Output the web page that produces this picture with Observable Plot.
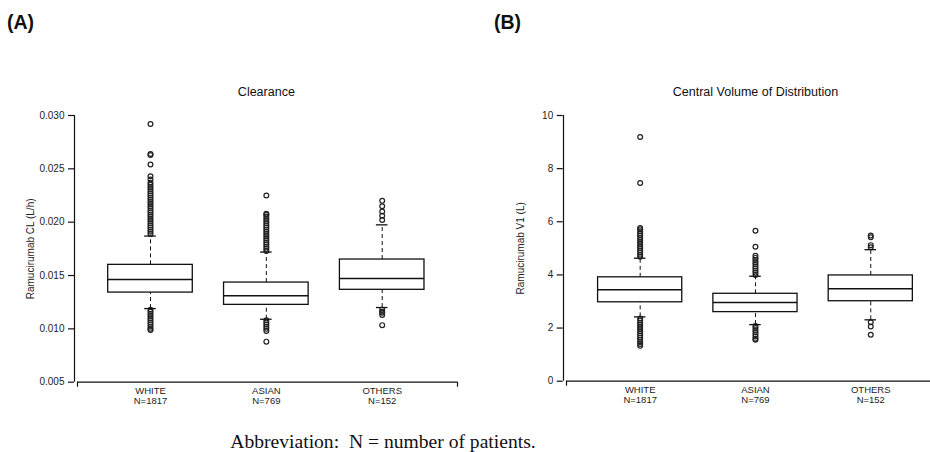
<!DOCTYPE html>
<html>
<head>
<meta charset="utf-8">
<script src="https://cdn.jsdelivr.net/npm/d3@7"></script>
<script src="https://cdn.jsdelivr.net/npm/@observablehq/plot@0.6"></script>
<style>
  body { margin: 0; background: #fff; }
  #fig { position: relative; width: 930px; height: 452px; background: #fff; overflow: hidden; }
  .panel { position: absolute; top: 0; }
  .tag { position: absolute; top: 13px; font: bold 19.5px "Liberation Sans", Arial, sans-serif; line-height: 19px; color: #111; }
  #caption { position: absolute; top: 432px; left: 0; width: 766px; text-align: center; font: 19.6px "Liberation Serif", "Times New Roman", serif; line-height: 19px; white-space: pre; color: #111; }
</style>
</head>
<body>
<div id="fig">
  <div class="tag" style="left:7px">(A)</div>
  <div class="tag" style="left:494px">(B)</div>
  <div id="panelA" class="panel" style="left:0px"></div>
  <div id="panelB" class="panel" style="left:465px"></div>
  <div id="caption">Abbreviation:  N = number of patients.</div>
</div>
<script>
// ---- Data ----
const categories = ["WHITE", "ASIAN", "OTHERS"];
const patientCounts = ["N=1817", "N=769", "N=152"];

// Panel A: Clearance (L/h)
const clTitle = "Clearance";
const clLabel = "Ramucirumab CL (L/h)";
const clTicks = [0.005, 0.010, 0.015, 0.020, 0.025, 0.030];
const clQ1  = [0.0134, 0.01225, 0.01366];
const clMed = [0.01463, 0.0131, 0.01472];
const clQ3  = [0.0160, 0.01434, 0.0165];
const clLow = [0.0119, 0.0109, 0.0120];
const clHigh = [0.0187, 0.0172, 0.01975];
const clOutWhite = [0.0189,0.0191,0.0193,0.0195,0.0197,0.0199,0.0201,0.0203,0.0205,0.0207,0.0209,0.0211,0.0213,0.0215,0.0217,0.0219,0.0221,0.0223,0.0225,0.0227,0.0229,0.0231,0.0233,0.0235,0.0237,0.0240,0.0243,0.0254,0.0263,0.0264,0.0292,
  0.0118,0.0116,0.0114,0.0112,0.0110,0.0108,0.0106,0.0104,0.0102,0.0100,0.0099];
const clOutAsian = [0.0173,0.0175,0.0177,0.0179,0.0181,0.0183,0.0185,0.0187,0.0189,0.0191,0.0193,0.0195,0.0197,0.0199,0.0201,0.0203,0.0205,0.0207,0.0208,0.0225,
  0.0108,0.0106,0.0104,0.0102,0.0100,0.0098,0.0088];
const clOutOthers = [0.0202,0.0206,0.0210,0.0215,0.0220, 0.0118,0.0116,0.0115,0.0113,0.01035];

// Panel B: Central volume of distribution (L)
const v1Title = "Central Volume of Distribution";
const v1Label = "Ramucirumab V1 (L)";
const v1Ticks = [0, 2, 4, 6, 8, 10];
const v1Q1  = [2.97, 2.60, 3.01];
const v1Med = [3.44, 2.96, 3.48];
const v1Q3  = [3.91, 3.29, 3.98];
const v1Low = [2.42, 2.13, 2.31];
const v1High = [4.63, 3.95, 4.95];
const v1OutWhite = [4.68,4.76,4.84,4.92,5.00,5.08,5.16,5.24,5.32,5.40,5.48,5.56,5.64,5.72,5.77,7.46,9.19,
  2.36,2.28,2.20,2.12,2.04,1.96,1.88,1.80,1.72,1.64,1.56,1.48,1.40,1.33];
const v1OutAsian = [4.00,4.08,4.16,4.24,4.32,4.40,4.48,4.56,4.64,4.72,5.06,5.66,
  2.08,2.00,1.92,1.84,1.76,1.68,1.60,1.56];
const v1OutOthers = [5.04,5.12,5.42,5.48, 2.22,2.06,1.75];

// ---- Drawing ----
function panel({title, label, ticks, fmt, q1, med, q3, lo, hi, outs, xDomain, xRange, yDomain, yRange, marginLeft, labelDx}) {
  const boxes = categories.map((c, k) => ({i: k + 1, q1: q1[k], med: med[k], q3: q3[k], lo: lo[k], hi: hi[k]}));
  const outliers = outs.flatMap((arr, k) => arr.map(v => ({i: k + 1, v})));
  const hw = 0.365, cw = 0.05;
  const H = 410;
  return Plot.plot({
    width: 465,
    height: H,
    marginLeft,
    marginRight: 0,
    marginTop: yRange[1],
    marginBottom: H - yRange[0],
    style: {fontFamily: "'Liberation Sans', Arial, sans-serif", fontSize: "10px", color: "#222", background: "transparent"},
    x: {domain: xDomain, range: xRange, axis: null},
    y: {domain: yDomain, range: yRange, axis: null},
    marks: [
      // y axis
      Plot.ruleX([xDomain[0]], {y1: yDomain[0], y2: yDomain[1], dx: -3, stroke: "#111", strokeWidth: 1.2}),
      Plot.axisY({ticks, tickFormat: fmt, tickSize: 6, tickPadding: 4, label: null, anchor: "left", stroke: "#111", strokeWidth: 1.2, fill: "#222"}),
      // x axis
      Plot.ruleY([yDomain[0]], {x1: xDomain[0], x2: xDomain[1], stroke: "#111", strokeWidth: 1.2}),
      Plot.axisX({ticks: xDomain, tickFormat: () => "", tickSize: 5, label: null, stroke: "#111", strokeWidth: 1.2}),
      Plot.axisX({ticks: [1, 2, 3], tickFormat: d => categories[d - 1] + "\n" + patientCounts[d - 1], tickSize: 0, tickPadding: 5, label: null, fontSize: 9.5, lineHeight: 1.05, fill: "#222"}),
      // whiskers
      Plot.ruleX(boxes, {x: "i", y1: "q3", y2: "hi", stroke: "#111", strokeWidth: 1, strokeDasharray: "4,3"}),
      Plot.ruleX(boxes, {x: "i", y1: "lo", y2: "q1", stroke: "#111", strokeWidth: 1, strokeDasharray: "4,3"}),
      // outliers
      Plot.dot(outliers, {x: "i", y: "v", r: 2.4, stroke: "#222", strokeWidth: 1.2, fill: "none"}),
      // caps
      Plot.ruleY(boxes, {y: "hi", x1: d => d.i - cw, x2: d => d.i + cw, stroke: "#111", strokeWidth: 1.3}),
      Plot.ruleY(boxes, {y: "lo", x1: d => d.i - cw, x2: d => d.i + cw, stroke: "#111", strokeWidth: 1.3}),
      // boxes
      Plot.rect(boxes, {x1: d => d.i - hw, x2: d => d.i + hw, y1: "q1", y2: "q3", fill: "white", stroke: "#111", strokeWidth: 1.3}),
      Plot.ruleY(boxes, {y: "med", x1: d => d.i - hw, x2: d => d.i + hw, stroke: "#111", strokeWidth: 1.4}),
      // title
      Plot.text([title], {x: 2, y: yDomain[1], dy: -24, text: d => d, fontSize: 12.5, fill: "#111", lineAnchor: "middle"}),
      // y label
      Plot.text([label], {frameAnchor: "left", y: (yDomain[0] + yDomain[1]) / 2, dx: labelDx, text: d => d, rotate: -90, fontSize: 10, fill: "#222", textAnchor: "middle"})
    ]
  });
}

document.getElementById("panelA").append(panel({
  title: clTitle, label: clLabel, ticks: clTicks, fmt: d3.format(".3f"),
  q1: clQ1, med: clMed, q3: clQ3, lo: clLow, hi: clHigh,
  outs: [clOutWhite, clOutAsian, clOutOthers],
  xDomain: [0.37, 3.65], xRange: [77, 457],
  yDomain: [0.005, 0.030], yRange: [381.7, 115],
  marginLeft: 74, labelDx: -44
}));

document.getElementById("panelB").append(panel({
  title: v1Title, label: v1Label, ticks: v1Ticks, fmt: d3.format("d"),
  q1: v1Q1, med: v1Med, q3: v1Q3, lo: v1Low, hi: v1High,
  outs: [v1OutWhite, v1OutAsian, v1OutOthers],
  xDomain: [0.361, 3.65], xRange: [101, 480.2],
  yDomain: [0, 10], yRange: [380.7, 115],
  marginLeft: 97.7, labelDx: -42.7
}));
</script>
</body>
</html>
